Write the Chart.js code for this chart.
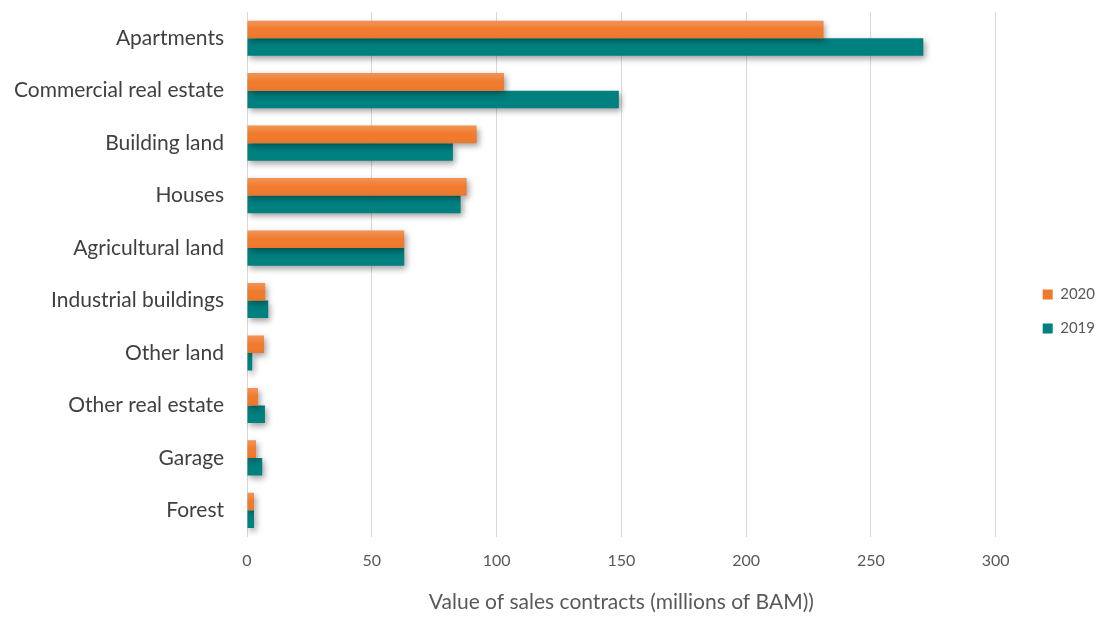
<!DOCTYPE html>
<html>
<head>
<meta charset="utf-8">
<script src="https://cdn.jsdelivr.net/npm/chart.js@4.4.1/dist/chart.umd.min.js"></script>
<style>
  html, body { margin: 0; padding: 0; background: #fff; }
  #wrap { width: 1102px; height: 617px; }
</style>
</head>
<body>
<div id="wrap"><canvas id="salesChart"></canvas></div>
<script>
const categories = ['Apartments', 'Commercial real estate', 'Building land', 'Houses', 'Agricultural land',
  'Industrial buildings', 'Other land', 'Other real estate', 'Garage', 'Forest'];
const values2020 = [231, 103, 92, 88, 63, 7.3, 6.8, 4.4, 3.6, 2.8];
const values2019 = [271, 149, 82.5, 85.6, 63, 8.5, 2.1, 7.2, 6.1, 2.8];
const xTicks = [0, 50, 100, 150, 200, 250, 300];

// soft drop shadow under the bars
const barShadow = {
  id: 'barShadow',
  beforeDatasetsDraw(chart) {
    const ctx = chart.ctx;
    ctx.save();
    ctx.shadowColor = 'rgba(0,0,0,0.38)';
    ctx.shadowBlur = 6;
    ctx.shadowOffsetX = 2;
    ctx.shadowOffsetY = 3;
  },
  afterDatasetsDraw(chart) {
    chart.ctx.restore();
  }
};

// light top-to-bottom sheen on the orange bars
const orangeSheen = {
  id: 'orangeSheen',
  afterDatasetsDraw(chart) {
    const ctx = chart.ctx;
    ctx.save();
    chart.getDatasetMeta(0).data.forEach(bar => {
      const { x, y, base, height } = bar.getProps(['x', 'y', 'base', 'height']);
      const top = y - height / 2;
      const g = ctx.createLinearGradient(0, top, 0, top + height);
      g.addColorStop(0, 'rgba(255,255,255,0.2)');
      g.addColorStop(0.5, 'rgba(255,255,255,0)');
      g.addColorStop(1, 'rgba(120,40,0,0.05)');
      ctx.fillStyle = g;
      ctx.fillRect(base, top, x - base, height);
    });
    ctx.restore();
  }
};

// push the legend a little further away from the plot
const legendShift = {
  id: 'legendShift',
  afterLayout(chart) {
    const lg = chart.legend;
    if (!lg) return;
    lg.left += 28;
    lg.right += 28;
    lg.top -= 2;
    lg.bottom -= 2;
  }
};

Chart.defaults.font.family = 'Lato, "Open Sans", sans-serif';

new Chart(document.getElementById('salesChart'), {
  type: 'bar',
  data: {
    labels: categories,
    datasets: [
      { label: '2020', data: values2020, backgroundColor: '#F07A2C', barPercentage: 1.0, categoryPercentage: 0.67 },
      { label: '2019', data: values2019, backgroundColor: '#00807F', barPercentage: 1.0, categoryPercentage: 0.67 }
    ]
  },
  options: {
    indexAxis: 'y',
    responsive: true,
    maintainAspectRatio: false,
    animation: false,
    layout: { padding: { top: 12, left: 10, right: 25, bottom: 2 } },
    scales: {
      x: {
        min: 0, max: 300,
        afterBuildTicks(scale) { scale.ticks = xTicks.map(v => ({ value: v })); },
        grid: { color: '#D9D9D9', drawTicks: false },
        border: { display: false },
        ticks: { color: '#595959', font: { size: 16 }, padding: 15 },
        title: { display: true, text: 'Value of sales contracts (millions of BAM))', color: '#595959', font: { size: 21 }, padding: { top: 4, bottom: 0 } }
      },
      y: {
        grid: { display: false, drawTicks: false },
        border: { display: false },
        ticks: { color: '#404040', font: { size: 21 }, padding: 23 },
        afterFit(scale) {
          scale.paddingTop = 0;
          scale.paddingBottom = 0;
          scale.width = 237;
        }
      }
    },
    plugins: {
      legend: {
        position: 'right',
        labels: { boxWidth: 10, boxHeight: 10, color: '#595959', font: { size: 15 }, padding: 19 }
      },
      tooltip: { enabled: false }
    }
  },
  plugins: [barShadow, orangeSheen, legendShift]
});
</script>
</body>
</html>
